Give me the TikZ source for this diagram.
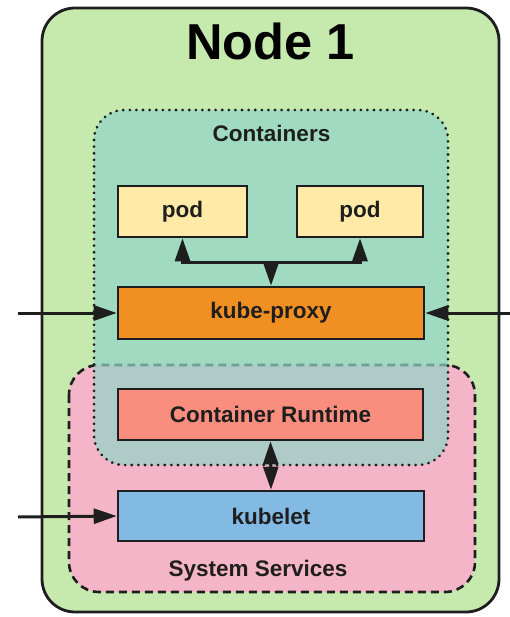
\documentclass[tikz,border=0pt]{standalone}
\usepackage{fontspec}
\setmainfont{Liberation Sans}
\usetikzlibrary{arrows.meta}
\definecolor{nodegreen}{RGB}{198,233,174}
\definecolor{contteal}{RGB}{145,213,200}
\definecolor{syspink}{RGB}{244,181,200}
\definecolor{podyellow}{RGB}{255,234,168}
\definecolor{proxyorange}{RGB}{240,143,34}
\definecolor{rtsalmon}{RGB}{250,142,126}
\definecolor{kblue}{RGB}{130,186,228}
\definecolor{ink}{RGB}{30,30,30}
\tikzset{
  x=1pt, y=-1pt,
  box/.style={draw=ink, line width=2.6pt, minimum height=51pt, inner sep=0pt,
    font=\fontsize{22.5}{25}\selectfont\bfseries, text=ink},
  lbl/.style={font=\fontsize{22.5}{25}\selectfont\bfseries, text=ink, inner sep=0pt},
  arr/.style={draw=ink, line width=3pt, -{Triangle[length=23pt,width=15pt]}},
  darr/.style={draw=ink, line width=3pt, {Triangle[length=23pt,width=15pt]}-{Triangle[length=23pt,width=15pt]}},
}
\begin{document}
\begin{tikzpicture}
\useasboundingbox (0,0) rectangle (510,617);
% outer node
\draw[ink, line width=2.8pt, fill=nodegreen, rounded corners=33pt] (42,8) rectangle (499,612);
\node[font=\fontsize{50.5}{55}\selectfont\bfseries, text=black, inner sep=0pt] (title) at (270.5,41) {Node 1};
% system services
\draw[ink, line width=2.6pt, fill=syspink, dash pattern=on 8pt off 5pt, rounded corners=30pt] (69,365) rectangle (475,592);
% containers
\draw[ink, line width=3pt, fill=contteal, fill opacity=0.7, dash pattern=on 0.1pt off 6.5pt, line cap=round, rounded corners=30pt] (94,110) rectangle (448,465);
\node[lbl] (contlbl) at (271.5,133) {Containers};
\node[lbl] (syslbl) at (258,571) {System Services};
% boxes
\node[box, fill=podyellow, minimum width=129pt] (pod1) at (182.5,211.5) {pod};
\node[box, fill=podyellow, minimum width=126pt] (pod2) at (360,211.5) {pod};
\node[box, fill=proxyorange, minimum width=306pt, minimum height=52pt] (proxy) at (271,313) {kube-proxy};
\node[box, fill=rtsalmon, minimum width=305pt] (runtime) at (270.5,414.5) {Container Runtime};
\node[box, fill=kblue, minimum width=306pt, minimum height=50pt] (kubelet) at (271,516) {kubelet};
% connectors
\coordinate (j) at (271,262);
\coordinate (inL1) at (18,313);
\coordinate (inR1) at (512,313);
\coordinate (inL2) at (18,517);
\draw[darr] (pod1.south) |- (j) -| (pod2.south);
\draw[arr] (j) -- (proxy.north);
\draw[arr] (inL1) -- (proxy.west);
\draw[arr] (inR1) -- (proxy.east);
\draw[arr] (inL2) -- (kubelet.west);
\draw[darr] (runtime.south) -- (kubelet.north);
\end{tikzpicture}
\end{document}
